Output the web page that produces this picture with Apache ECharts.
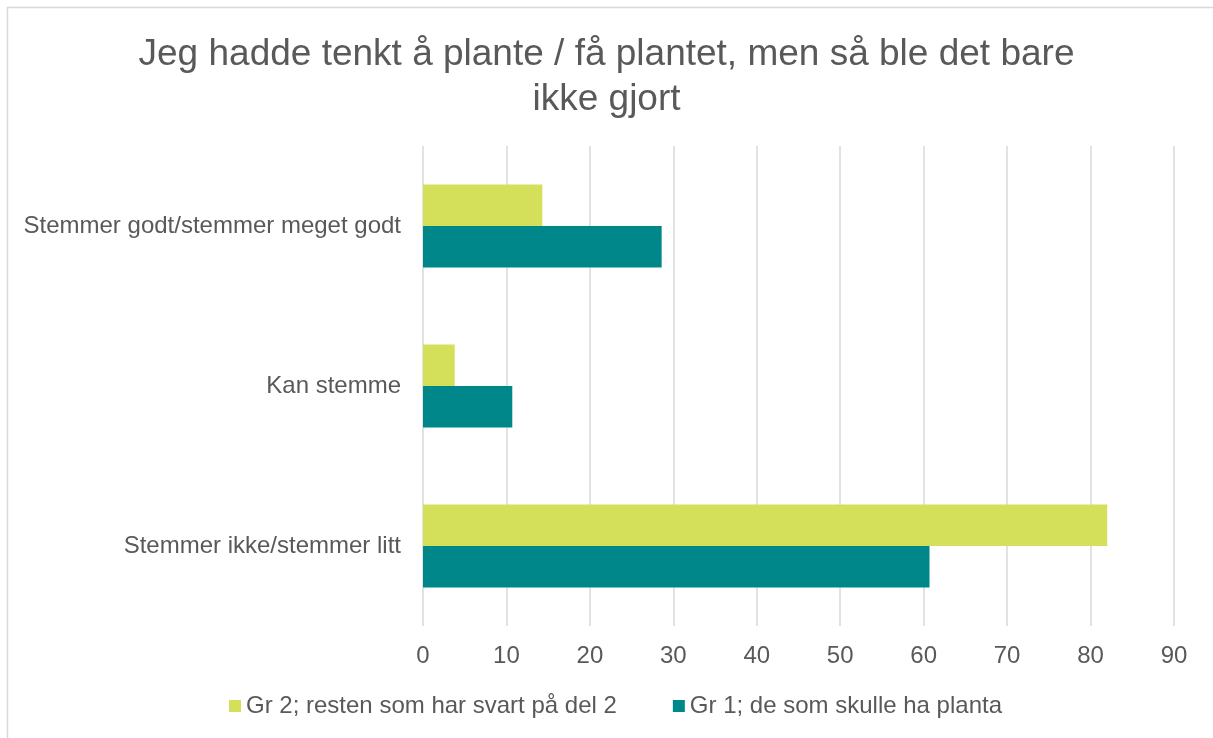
<!DOCTYPE html>
<html>
<head>
<meta charset="utf-8">
<script src="https://cdn.jsdelivr.net/npm/echarts@6/dist/echarts.min.js"></script>
<style>
  html, body { margin: 0; padding: 0; background: #fff; }
  #main { width: 1213px; height: 738px; }
</style>
</head>
<body>
<div id="main"></div>
<script>
var categories = ['Stemmer godt/stemmer meget godt', 'Kan stemme', 'Stemmer ikke/stemmer litt'];
var gr2Values = [14.3, 3.8, 82.0];
var gr1Values = [28.6, 10.7, 60.7];
var gr2Name = 'Gr 2; resten som har svart på del 2';
var gr1Name = 'Gr 1; de som skulle ha planta';

var textColor = '#595959';
var fontName = 'Liberation Sans, Arial, sans-serif';

var myChart = echarts.init(document.getElementById('main'));

var option = {
    backgroundColor: '#fff',
    animation: false,
    graphic: [{
        type: 'rect',
        shape: { x: 7.5, y: 7.5, width: 1230, height: 760 },
        style: { fill: 'none', stroke: '#d9d9d9', lineWidth: 1.5 },
        silent: true
    }],
    title: {
        text: 'Jeg hadde tenkt å plante / få plantet, men så ble det bare\nikke gjort',
        left: 'center',
        top: 27,
        textStyle: {
            color: textColor,
            fontFamily: fontName,
            fontSize: 37,
            fontWeight: 'normal',
            lineHeight: 45
        }
    },
    legend: {
        data: [gr2Name, gr1Name],
        left: 224,
        top: 689,
        itemWidth: 12,
        itemHeight: 12,
        itemGap: 56,
        icon: 'rect',
        textStyle: {
            color: textColor,
            fontFamily: fontName,
            fontSize: 24
        }
    },
    grid: {
        left: 423,
        right: 39,
        top: 146,
        height: 480,
        containLabel: false
    },
    xAxis: {
        type: 'value',
        min: 0,
        max: 90,
        interval: 10,
        axisLine: { show: false },
        axisTick: { show: false },
        splitLine: { lineStyle: { color: '#d9d9d9', width: 1.5 } },
        axisLabel: {
            color: textColor,
            fontFamily: fontName,
            fontSize: 24,
            margin: 18
        }
    },
    yAxis: {
        type: 'category',
        inverse: true,
        data: categories,
        axisLine: { show: false },
        axisTick: { show: false },
        axisLabel: {
            color: textColor,
            fontFamily: fontName,
            fontSize: 24,
            margin: 22
        }
    },
    series: [
        {
            name: gr2Name,
            type: 'bar',
            data: gr2Values,
            barGap: '0%',
            barCategoryGap: '48%',
            itemStyle: { color: '#d4df5a' }
        },
        {
            name: gr1Name,
            type: 'bar',
            data: gr1Values,
            barGap: '0%',
            barCategoryGap: '48%',
            itemStyle: { color: '#00878a' }
        }
    ]
};

myChart.setOption(option);
</script>
</body>
</html>
